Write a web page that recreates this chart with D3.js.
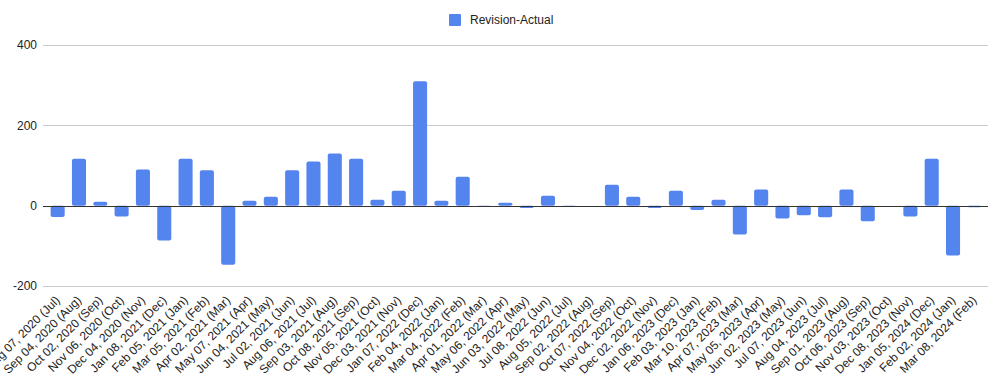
<!DOCTYPE html>
<html>
<head>
<meta charset="utf-8">
<script src="https://cdn.jsdelivr.net/npm/d3@7"></script>
<style>
  body { margin: 0; background: #fff; }
  text { font-family: Arial, "Liberation Sans", sans-serif; }
</style>
</head>
<body>
<script>
var labels = ["Aug 07, 2020 (Jul)", "Sep 04, 2020 (Aug)", "Oct 02, 2020 (Sep)", "Nov 06, 2020 (Oct)",
  "Dec 04, 2020 (Nov)", "Jan 08, 2021 (Dec)", "Feb 05, 2021 (Jan)", "Mar 05, 2021 (Feb)",
  "Apr 02, 2021 (Mar)", "May 07, 2021 (Apr)", "Jun 04, 2021 (May)", "Jul 02, 2021 (Jun)",
  "Aug 06, 2021 (Jul)", "Sep 03, 2021 (Aug)", "Oct 08, 2021 (Sep)", "Nov 05, 2021 (Oct)",
  "Dec 03, 2021 (Nov)", "Jan 07, 2022 (Dec)", "Feb 04, 2022 (Jan)", "Mar 04, 2022 (Feb)",
  "Apr 01, 2022 (Mar)", "May 06, 2022 (Apr)", "Jun 03, 2022 (May)", "Jul 08, 2022 (Jun)",
  "Aug 05, 2022 (Jul)", "Sep 02, 2022 (Aug)", "Oct 07, 2022 (Sep)", "Nov 04, 2022 (Oct)",
  "Dec 02, 2022 (Nov)", "Jan 06, 2023 (Dec)", "Feb 03, 2023 (Jan)", "Mar 10, 2023 (Feb)",
  "Apr 07, 2023 (Mar)", "May 05, 2023 (Apr)", "Jun 02, 2023 (May)", "Jul 07, 2023 (Jun)",
  "Aug 04, 2023 (Jul)", "Sep 01, 2023 (Aug)", "Oct 06, 2023 (Sep)", "Nov 03, 2023 (Oct)",
  "Dec 08, 2023 (Nov)", "Jan 05, 2024 (Dec)", "Feb 02, 2024 (Jan)", "Mar 08, 2024 (Feb)"];

var revision = [-28, 117, 10, -27, 90, -87, 117, 88, -147, 12, 22, 88,
  110, 130, 117, 15, 37, 310, 12, 72, -1, 7, -6, 25,
  -1, 0, 52, 22, -6, 37, -11, 15, -72, 40, -32, -24,
  -29, 40, -39, 0, -27, 117, -124, -4];

var yTicks = [-200, 0, 200, 400];

var width = 1005, height = 387;

var svg = d3.select("body").append("svg")
    .attr("width", width)
    .attr("height", height);

var x = d3.scaleBand().domain(labels).range([47, 985]).paddingInner(0.34).paddingOuter(0.17);
var y = d3.scaleLinear().domain([-200, 400]).range([286, 45]);

// gridlines
svg.append("g").selectAll("line")
    .data(yTicks.filter(function(d) { return d != 0; }))
    .enter().append("line")
    .attr("x1", 43).attr("x2", 988)
    .attr("y1", function(d) { return Math.round(y(d)) + 0.5; })
    .attr("y2", function(d) { return Math.round(y(d)) + 0.5; })
    .attr("stroke", "#cccccc");

svg.append("g").selectAll("text")
    .data(yTicks)
    .enter().append("text")
    .attr("x", 37)
    .attr("y", function(d) { return y(d); })
    .attr("dy", "0.35em")
    .attr("text-anchor", "end")
    .attr("font-size", 12)
    .attr("fill", "#222")
    .text(function(d) { return d; });

// bars
svg.append("g").selectAll("rect")
    .data(revision)
    .enter().append("rect")
    .attr("x", function(d, i) { return x(labels[i]); })
    .attr("width", x.bandwidth())
    .attr("y", function(d) { return y(Math.max(0, d)); })
    .attr("height", function(d) { return Math.max(Math.abs(y(d) - y(0)), d == 0 ? 0 : 1); })
    .attr("rx", 2)
    .attr("fill", "#5484ed");

// zero line
svg.append("line")
    .attr("x1", 43).attr("x2", 988)
    .attr("y1", Math.round(y(0)) + 0.5).attr("y2", Math.round(y(0)) + 0.5)
    .attr("stroke", "#333");

// x labels
svg.append("g").selectAll("text")
    .data(labels)
    .enter().append("text")
    .attr("transform", function(d) {
      return "translate(" + (x(d) + x.bandwidth() / 2 + 3) + ",301) rotate(-45)";
    })
    .attr("text-anchor", "end")
    .attr("font-size", 12)
    .attr("fill", "#222")
    .text(function(d) { return d; });

// legend
var legend = svg.append("g").attr("transform", "translate(449,14)");
legend.append("rect")
    .attr("width", 12).attr("height", 12).attr("rx", 1)
    .attr("fill", "#5484ed");
legend.append("text")
    .attr("x", 21).attr("y", 6).attr("dy", "0.35em")
    .attr("font-size", 12)
    .attr("fill", "#222")
    .text("Revision-Actual");
</script>
</body>
</html>
